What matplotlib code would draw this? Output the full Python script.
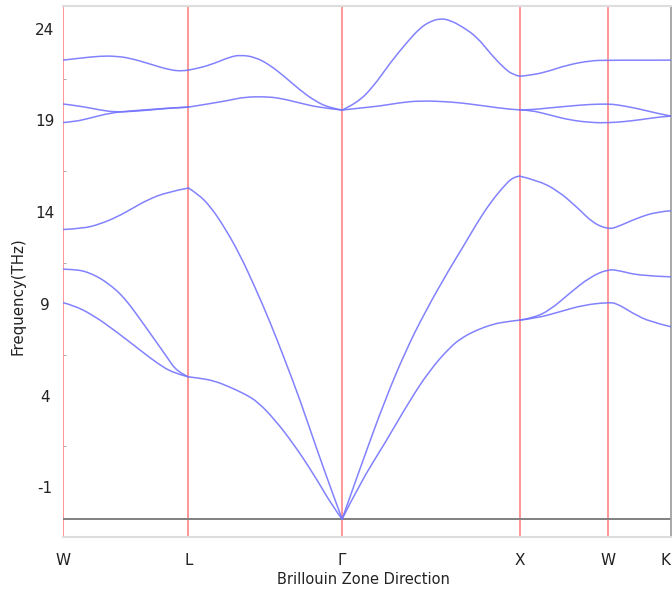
import matplotlib
matplotlib.use("Agg")
import matplotlib.pyplot as plt
from matplotlib.path import Path
from matplotlib.patches import PathPatch

# High-symmetry points along the FCC path and their cumulative path distance (2*pi/a units)
point_labels = ["W", "L", "Γ", "X", "W", "K"]
point_k = [0.0, 0.7071, 1.5731, 2.5731, 3.0731, 3.4267]

# Frequency ticks shown on the axis and the zero-frequency baseline
freq_ticks = [24, 19, 14, 9, 4, -1]
minor_ticks = [21.23, 16.23, 11.23, 6.23, 1.23]
baseline = -2.73

# Phonon bands, one list of (k, frequency) per band and per path segment
seg_W_L = [
    [(0.000, 22.28), (0.096, 22.39), (0.209, 22.50), (0.293, 22.50), (0.378, 22.39),
     (0.490, 22.07), (0.603, 21.74), (0.676, 21.68), (0.7071, 21.74)],
    [(0.000, 19.89), (0.096, 19.78), (0.209, 19.56), (0.293, 19.45), (0.378, 19.48),
     (0.490, 19.56), (0.603, 19.67), (0.7071, 19.72)],
    [(0.000, 18.88), (0.068, 18.93), (0.152, 19.12), (0.265, 19.40), (0.378, 19.51),
     (0.490, 19.59), (0.603, 19.67), (0.7071, 19.72)],
    [(0.000, 13.05), (0.113, 13.10), (0.209, 13.35), (0.304, 13.73), (0.395, 14.22),
     (0.473, 14.65), (0.586, 15.09), (0.7071, 15.31)],
    [(0.000, 10.89), (0.056, 10.87), (0.113, 10.80), (0.163, 10.62), (0.209, 10.40),
     (0.254, 10.10), (0.304, 9.72), (0.349, 9.26), (0.395, 8.70), (0.490, 7.41),
     (0.586, 6.10), (0.643, 5.29), (0.7071, 5.02)],
    [(0.000, 9.06), (0.057, 8.93), (0.169, 8.39), (0.304, 7.46), (0.434, 6.48),
     (0.530, 5.77), (0.620, 5.23), (0.7071, 5.02)],
]

seg_L_G = [
    [(0.7071, 21.74), (0.772, 21.85), (0.857, 22.12), (0.941, 22.45), (0.998, 22.56),
     (1.082, 22.45), (1.167, 22.01), (1.251, 21.36), (1.336, 20.65), (1.420, 20.05),
     (1.505, 19.67), (1.5731, 19.56)],
    [(0.7071, 19.72), (0.829, 19.91), (0.941, 20.10), (1.026, 20.27), (1.138, 20.29),
     (1.223, 20.21), (1.336, 19.94), (1.448, 19.69), (1.5731, 19.56)],
    [(0.7071, 15.31), (0.761, 14.98), (0.829, 14.33), (0.913, 13.13), (0.998, 11.66),
     (1.082, 9.91), (1.167, 8.01), (1.251, 5.93), (1.336, 3.76), (1.432, 1.03),
     (1.533, -1.69), (1.5731, -2.73)],
    [(0.7071, 5.02), (0.772, 4.95), (0.857, 4.79), (0.941, 4.46), (1.026, 4.08),
     (1.099, 3.65), (1.195, 2.67), (1.296, 1.41), (1.409, -0.22), (1.522, -2.08),
     (1.5731, -2.73)],
]

seg_G_X = [
    [(1.5731, 19.56), (1.657, 19.94), (1.747, 20.81), (1.843, 22.12), (1.939, 23.26),
     (2.012, 24.03), (2.068, 24.38), (2.125, 24.55), (2.181, 24.46), (2.254, 24.08),
     (2.333, 23.54), (2.407, 22.66), (2.480, 21.90), (2.536, 21.47), (2.5731, 21.41)],
    [(1.5731, 19.56), (1.674, 19.67), (1.787, 19.78), (1.899, 19.96), (2.012, 20.07),
     (2.181, 20.01), (2.294, 19.89), (2.407, 19.74), (2.519, 19.60), (2.5731, 19.57)],
    [(1.5731, -2.73), (1.691, 0.49), (1.815, 3.76), (1.928, 6.37), (2.040, 8.55),
     (2.181, 10.95), (2.254, 12.09), (2.333, 13.40), (2.407, 14.49), (2.480, 15.36),
     (2.536, 15.91), (2.5731, 15.96)],
    [(1.5731, -2.73), (1.674, -0.77), (1.815, 1.41), (1.956, 3.76), (2.068, 5.39),
     (2.181, 6.64), (2.254, 7.19), (2.333, 7.57), (2.407, 7.84), (2.480, 8.01),
     (2.5731, 8.11)],
]

seg_X_W_K = [
    [(2.5731, 21.40), (2.649, 21.47), (2.745, 21.70), (2.841, 22.01), (2.970, 22.25),
     (3.0731, 22.28), (3.4267, 22.28)],
    [(2.5731, 19.57), (2.632, 19.57), (2.745, 19.68), (2.857, 19.78), (2.970, 19.87),
     (3.0731, 19.89), (3.122, 19.85), (3.235, 19.65), (3.348, 19.38), (3.4267, 19.23)],
    [(2.5731, 19.57), (2.632, 19.56), (2.745, 19.29), (2.857, 19.01), (2.987, 18.87),
     (3.0731, 18.87), (3.156, 18.92), (3.269, 19.05), (3.365, 19.19), (3.4267, 19.23)],
    [(2.5731, 15.96), (2.671, 15.74), (2.784, 15.20), (2.897, 14.27), (2.987, 13.40),
     (3.0731, 13.07), (3.122, 13.18), (3.235, 13.67), (3.348, 14.02), (3.4267, 14.07)],
    [(2.5731, 8.11), (2.649, 8.22), (2.745, 8.66), (2.857, 9.59), (2.970, 10.46),
     (3.0731, 10.89), (3.139, 10.80), (3.252, 10.53), (3.4267, 10.47)],
    [(2.5731, 8.11), (2.671, 8.22), (2.801, 8.57), (2.931, 8.93), (3.0731, 9.08),
     (3.122, 9.02), (3.212, 8.48), (3.308, 8.02), (3.4267, 7.75)],
]


def smooth_path(points):
    """Quadratic Bezier path through the midpoints, using each sample as a control point."""
    if len(points) < 3:
        return Path(points)
    verts = [points[0]]
    codes = [Path.MOVETO]
    for i in range(1, len(points) - 1):
        ctrl = points[i]
        if i < len(points) - 2:
            end = ((points[i][0] + points[i + 1][0]) / 2, (points[i][1] + points[i + 1][1]) / 2)
        else:
            end = points[i + 1]
        verts += [ctrl, end]
        codes += [Path.CURVE3, Path.CURVE3]
    return Path(verts, codes)


W, H = 672, 591
fig = plt.figure(figsize=(W / 100, H / 100), dpi=100)
ax = fig.add_axes([63 / W, 1 - 536.5 / H, (671 - 63) / W, (536.5 - 6) / H])
ax.set_xlim(point_k[0], point_k[-1])
ax.set_ylim(-3.68, 25.23)

band_color = "#7474ff"
for segment in (seg_W_L, seg_L_G, seg_G_X, seg_X_W_K):
    for band in segment:
        ax.add_patch(PathPatch(smooth_path(band), fill=False, edgecolor=band_color,
                               lw=1.1, alpha=0.9, zorder=3, capstyle="round",
                               joinstyle="round"))

for k in point_k[:-1]:
    ax.axvline(k, color="#ff8f8f", lw=1.3, zorder=2)
ax.axhline(baseline, color="#808080", lw=1.4, zorder=2)

for side in ("top", "bottom"):
    ax.spines[side].set_color("#dddddd")
    ax.spines[side].set_linewidth(1.5)
ax.spines["right"].set_color("#999999")
ax.spines["right"].set_linewidth(1.2)
ax.spines["left"].set_visible(False)

ax.set_xticks(point_k)
ax.set_xticklabels(point_labels, fontsize=11, color="#222222")
ax.tick_params(axis="x", length=0, pad=12)
ax.get_xticklabels()[-1].set_horizontalalignment("right")

ax.set_yticks(freq_ticks)
ax.set_yticklabels([str(t) for t in freq_ticks], fontsize=11, color="#222222")
ax.set_yticks(minor_ticks, minor=True)
ax.tick_params(axis="y", which="major", length=0, pad=13)
ax.tick_params(axis="y", which="minor", length=2, direction="in", color="#999999")
for lab in ax.get_yticklabels():
    lab.set_horizontalalignment("center")

fig.text(18 / W, 1 - 296 / H, "Frequency(THz)", rotation=90, ha="center",
         va="center", fontsize=10.8, color="#222222")
fig.text(363 / W, 1 - 580 / H, "Brillouin Zone Direction", ha="center",
         va="center", fontsize=10.5, color="#222222")

fig.savefig("out.png", dpi=100)
